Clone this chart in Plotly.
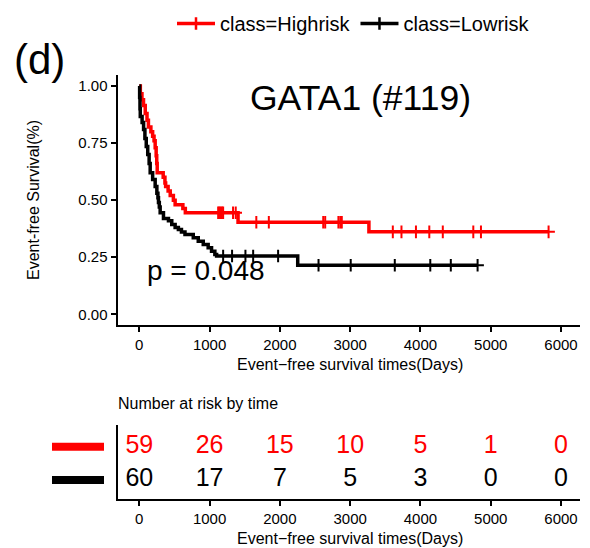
import plotly.graph_objects as go

# ---------------- data ----------------
hi_t = [0, 15, 38, 60, 85, 110, 130, 165, 190, 210, 226, 240, 248, 255, 340, 365, 375, 410, 440, 485, 510, 620, 655, 1405, 3267]
hi_s = [1.0, 0.966, 0.94, 0.915, 0.88, 0.85, 0.82, 0.80, 0.78, 0.76, 0.73, 0.695, 0.66, 0.62, 0.60, 0.575, 0.56, 0.54, 0.52, 0.50, 0.48, 0.463, 0.445, 0.403, 0.361]
hi_cens = [1122, 1140, 1155, 1175, 1193, 1334, 1372, 1665, 1843, 2617, 2645, 2833, 2860, 2881,
           3607, 3730, 3936, 4126, 4318, 4752, 4861, 5823]

lo_t = [0, 5, 10, 14, 40, 61, 80, 99, 120, 140, 155, 190, 226, 250, 265, 273, 285, 297, 344, 415, 462,
        510, 556, 600, 650, 768, 839, 910, 980, 1028, 1075, 1100, 2254]
lo_s = [1.0, 0.95, 0.90, 0.866, 0.84, 0.81, 0.77, 0.735, 0.70, 0.66, 0.62, 0.59, 0.56, 0.53, 0.51, 0.49,
        0.47, 0.445, 0.42, 0.41, 0.393, 0.38, 0.371, 0.36, 0.349, 0.335, 0.32, 0.306, 0.291, 0.276,
        0.262, 0.255, 0.215]
lo_cens = [1193, 1320, 1510, 1620, 1975, 2550, 3008, 3635, 4140, 4432, 4813]

risk_times = [0, 1000, 2000, 3000, 4000, 5000, 6000]
hi_risk = [59, 26, 15, 10, 5, 1, 0]
lo_risk = [60, 17, 7, 5, 3, 0, 0]

groups = ["class=Highrisk", "class=Lowrisk"]
colors = ["#FF0000", "#000000"]
x_ticks = [0, 1000, 2000, 3000, 4000, 5000, 6000]
y_ticks = [0.0, 0.25, 0.5, 0.75, 1.0]
y_ticklabels = ["0.00", "0.25", "0.50", "0.75", "1.00"]

W, H = 590, 548
FONT = "Liberation Sans, Arial, Helvetica, sans-serif"


def px(x):
    return x / W


def py(y):
    return 1 - y / H


def surv_at(times, surv, t):
    s = surv[0]
    for ti, si in zip(times, surv):
        if ti <= t:
            s = si
    return s


fig = go.Figure()

series = [(hi_t, hi_s, hi_cens, hi_risk), (lo_t, lo_s, lo_cens, lo_risk)]
for (t, s, c, r), name, col in zip(series, groups, colors):
    end = max(c)
    fig.add_trace(go.Scatter(x=t + [end], y=s + [s[-1]], mode="lines", line=dict(color=col, width=3.5, shape="hv"),
                             showlegend=False, xaxis="x", yaxis="y"))
    fig.add_trace(go.Scatter(x=c, y=[surv_at(t, s, ci) for ci in c], mode="markers",
                             marker=dict(symbol="cross-thin", size=9, line=dict(color=col, width=2)),
                             showlegend=False, xaxis="x", yaxis="y"))
    # legend entry
    fig.add_trace(go.Scatter(x=[None], y=[None], mode="lines+markers", name=name,
                             line=dict(color=col, width=3.5),
                             marker=dict(symbol="cross-thin", size=9, line=dict(color=col, width=2.5)),
                             xaxis="x", yaxis="y"))

# risk table
row_pos = [2, 1]
for (t, s, c, r), col, rp in zip(series, colors, row_pos):
    fig.add_trace(go.Scatter(x=risk_times, y=[rp] * len(risk_times), mode="text", text=[str(v) for v in r],
                             textfont=dict(color=col, size=25, family=FONT), showlegend=False,
                             xaxis="x2", yaxis="y2", hoverinfo="skip"))
    fig.add_shape(type="line", xref="paper", yref="y2", x0=px(52), x1=px(104), y0=rp, y1=rp,
                  line=dict(color=col, width=8))

xr = [-310, 6270]
axis_common = dict(showline=True, linecolor="black", linewidth=2, ticks="outside", ticklen=5, tickwidth=1.5,
                   tickcolor="black", showgrid=False, zeroline=False, tickfont=dict(size=15, color="black", family=FONT))

fig.update_layout(
    width=W, height=H, margin=dict(l=0, r=0, t=0, b=0),
    paper_bgcolor="white", plot_bgcolor="white",
    font=dict(family=FONT, color="black"),
    xaxis=dict(domain=[px(117.5), px(580)], range=xr, tickvals=x_ticks, anchor="y", **axis_common),
    yaxis=dict(domain=[py(325), py(74.6)], range=[-0.047, 1.05], tickvals=y_ticks, ticktext=y_ticklabels,
               anchor="x", **axis_common),
    xaxis2=dict(domain=[px(117.5), px(580)], range=xr, tickvals=x_ticks, anchor="y2", **axis_common),
    yaxis2=dict(domain=[py(499), py(425)], range=[0.429, 2.651], showticklabels=False, ticks="",
                showline=True, linecolor="black", linewidth=2, showgrid=False, zeroline=False, anchor="x2"),
    legend=dict(orientation="h", x=px(172), y=py(4), xanchor="left", yanchor="top",
                font=dict(size=20, family=FONT), bgcolor="rgba(0,0,0,0)", itemwidth=38),
    annotations=[
        dict(text="(d)", x=px(12), y=py(59), xref="paper", yref="paper", xanchor="left", yanchor="middle",
             showarrow=False, font=dict(size=42)),
        dict(text="GATA1 (#119)", x=px(360), y=py(98), xref="paper", yref="paper", xanchor="center",
             yanchor="middle", showarrow=False, font=dict(size=35.5)),
        dict(text="p = 0.048", x=px(206), y=py(270), xref="paper", yref="paper", xanchor="center",
             yanchor="middle", showarrow=False, font=dict(size=28)),
        dict(text="Event−free survival times(Days)", x=px(350), y=py(364), xref="paper", yref="paper",
             xanchor="center", yanchor="middle", showarrow=False, font=dict(size=16)),
        dict(text="Event-free Survival(%)", x=px(33), y=py(200), xref="paper", yref="paper", textangle=-90,
             xanchor="center", yanchor="middle", showarrow=False, font=dict(size=16)),
        dict(text="Number at risk by time", x=px(116), y=py(403), xref="paper", yref="paper",
             xanchor="left", yanchor="middle", showarrow=False, font=dict(size=16)),
        dict(text="Event−free survival times(Days)", x=px(350), y=py(538), xref="paper", yref="paper",
             xanchor="center", yanchor="middle", showarrow=False, font=dict(size=16)),
    ],
)

fig.write_html("out.html")
